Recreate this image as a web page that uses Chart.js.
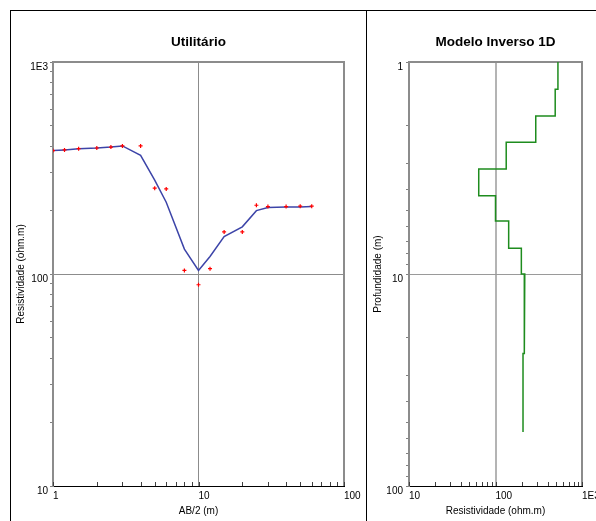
<!DOCTYPE html>
<html>
<head>
<meta charset="utf-8">
<script src="https://cdn.jsdelivr.net/npm/chart.js@4.4.1/dist/chart.umd.min.js"></script>
<style>
html, body { margin: 0; padding: 0; overflow: hidden; background: #fff; width: 596px; height: 521px; }
#frameL { position: absolute; left: 10px; top: 10px; width: 356px; height: 600px; border-left: 1px solid #000; border-top: 1px solid #000; }
#frameR { position: absolute; left: 366px; top: 10px; width: 300px; height: 600px; border-left: 1px solid #000; border-top: 1px solid #000; }
#left { position: absolute; left: 0; top: 0; }
#right { position: absolute; left: 366px; top: 0; }
</style>
</head>
<body>
<div id="frameL"></div>
<div id="frameR"></div>
<canvas id="left" width="366" height="521"></canvas>
<canvas id="right" width="260" height="521"></canvas>
<script>
// sondagem: AB/2 (m) e resistividade aparente (ohm.m)
var abHalf  = [1, 1.2, 1.5, 2, 2.5, 3, 4, 5, 6, 8, 10, 12, 15, 20, 25, 30, 40, 50, 60];
var rhoObs  = [382, 385, 390, 393, 397, 402, 402, 254, 252, 104, 89, 106, 158, 158, 211, 208, 208, 209, 209];
var rhoCalc = [382, 385, 390, 393, 397, 402, 363, 277, 218, 131, 104, 121, 150, 167, 199, 206, 207, 207, 208];

// modelo inverso: resistividade de cada camada e profundidade da base (m)
var layerRho    = [527, 490, 292, 133, 64, 100, 142, 199, 218, 214, 208];
var layerBottom = [1.345, 1.8, 2.39, 3.2, 4.27, 5.62, 7.56, 10, 13.4, 23.7, 55.6];
var modelTop = 1;

// rótulos dos eixos
var abLabels    = ['1', '10', '100'];
var rhoLabels   = ['10', '100', '1E3'];
var resLabels   = ['10', '100', '1E3'];
var depthLabels = ['1', '10', '100'];

Chart.defaults.font.family = "'Liberation Sans', Arial, sans-serif";
Chart.defaults.font.size = 10;
Chart.defaults.color = '#000';

function logTicks(scale) {
    var list = [];
    for (var d = scale.min; d < scale.max; d *= 10) {
        for (var k = 1; k <= 9; k++) list.push({value: d * k});
    }
    list.push({value: scale.max});
    if (scale.options.reverse) list.reverse();
    scale.ticks = list;
}

function labeller(labels) {
    var vals = labels.map(parseFloat);
    return function(v) {
        var i = vals.indexOf(v);
        return i < 0 ? '' : labels[i];
    };
}

function gridAt(val, col) {
    return function(ctx) {
        return ctx.tick && ctx.tick.value === val ? col : 'rgba(0,0,0,0)';
    };
}

// moldura cinza (topo e direita) e marcas internas do eixo x
var plotBox = {
    id: 'plotBox',
    beforeDatasetsDraw: function(chart) {
        var a = chart.chartArea, c = chart.ctx, xs = chart.scales.x;
        c.save();
        c.strokeStyle = '#8c8c8c';
        c.lineWidth = 2;
        c.beginPath();
        c.moveTo(a.left, a.top);
        c.lineTo(a.right, a.top);
        c.lineTo(a.right, a.bottom);
        c.stroke();
        c.strokeStyle = '#404040';
        c.lineWidth = 1;
        xs.ticks.forEach(function(t) {
            var px = Math.round(xs.getPixelForValue(t.value)) + 0.5;
            c.beginPath();
            c.moveTo(px, a.bottom);
            c.lineTo(px, a.bottom - 4);
            c.stroke();
        });
        c.restore();
    }
};

function titleOpts(text) {
    return {
        display: true,
        text: text,
        fullSize: false,
        font: {size: 13.5, weight: 'bold'},
        color: '#000',
        padding: {top: 34, bottom: 11.8}
    };
}

new Chart(document.getElementById('left'), {
    type: 'scatter',
    data: {
        datasets: [{
            label: 'Medido',
            data: abHalf.map(function(x, i) { return {x: x, y: rhoObs[i]}; }),
            pointStyle: 'cross',
            pointRadius: 2,
            borderColor: '#ff0000',
            borderWidth: 1.2,
            showLine: false
        }, {
            label: 'Calculado',
            data: abHalf.map(function(x, i) { return {x: x, y: rhoCalc[i]}; }),
            showLine: true,
            pointRadius: 0,
            borderColor: '#3c44a8',
            borderWidth: 1.5,
            tension: 0
        }]
    },
    options: {
        responsive: false,
        animation: false,
        devicePixelRatio: 1,
        layout: {padding: {left: 0, top: 0, right: 22, bottom: 0}},
        plugins: {
            legend: {display: false},
            tooltip: {enabled: false},
            title: titleOpts('Utilitário')
        },
        scales: {
            x: {
                type: 'logarithmic',
                min: 1, max: 100,
                afterBuildTicks: logTicks,
                afterFit: function(s) { s.height = 35; },
                border: {color: '#000', width: 1},
                grid: {color: gridAt(10, '#8c8c8c'), drawTicks: false},
                ticks: {align: 'start', padding: 4, autoSkip: false, maxRotation: 0, callback: labeller(abLabels)},
                title: {display: true, text: 'AB/2 (m)', padding: {top: 0, bottom: 4}}
            },
            y: {
                type: 'logarithmic',
                min: 10, max: 1000,
                afterBuildTicks: logTicks,
                afterFit: function(s) { s.width = 53; },
                border: {color: '#8c8c8c', width: 2},
                grid: {color: gridAt(100, '#8c8c8c'), tickColor: '#808080', tickLength: 3},
                ticks: {padding: 2, labelOffset: 5, autoSkip: false, callback: labeller(rhoLabels)},
                title: {display: true, text: 'Resistividade (ohm.m)', padding: {top: 15, bottom: 0}}
            }
        }
    },
    plugins: [plotBox]
});

// degraus do modelo 1D
var modelPts = [];
var d0 = modelTop;
layerRho.forEach(function(r, i) {
    modelPts.push({x: r, y: d0});
    modelPts.push({x: r, y: layerBottom[i]});
    d0 = layerBottom[i];
});

new Chart(document.getElementById('right'), {
    type: 'scatter',
    data: {
        datasets: [{
            label: 'Modelo',
            data: modelPts,
            showLine: true,
            pointRadius: 0,
            borderColor: '#1e8c1e',
            borderWidth: 1.5,
            tension: 0
        }]
    },
    options: {
        responsive: false,
        animation: false,
        devicePixelRatio: 1,
        layout: {padding: {left: 0, top: 0, right: 44, bottom: 0}},
        plugins: {
            legend: {display: false},
            tooltip: {enabled: false},
            title: titleOpts('Modelo Inverso 1D')
        },
        scales: {
            x: {
                type: 'logarithmic',
                min: 10, max: 1000,
                afterBuildTicks: logTicks,
                afterFit: function(s) { s.height = 35; },
                border: {color: '#000', width: 1},
                grid: {color: gridAt(100, '#b4b4b4'), lineWidth: 2, drawTicks: false},
                ticks: {align: 'start', padding: 4, autoSkip: false, maxRotation: 0, callback: labeller(resLabels)},
                title: {display: true, text: 'Resistividade (ohm.m)', padding: {top: 0, bottom: 4}}
            },
            y: {
                type: 'logarithmic',
                reverse: true,
                min: 1, max: 100,
                afterBuildTicks: logTicks,
                afterFit: function(s) { s.width = 43; },
                border: {color: '#8c8c8c', width: 2},
                grid: {color: gridAt(10, '#9a9a9a'), tickColor: '#808080', tickLength: 3},
                ticks: {padding: 3, labelOffset: 5, autoSkip: false, callback: labeller(depthLabels)},
                title: {display: true, text: 'Profundidade (m)', padding: {top: 6, bottom: 0}}
            }
        }
    },
    plugins: [plotBox]
});
</script>
</body>
</html>
